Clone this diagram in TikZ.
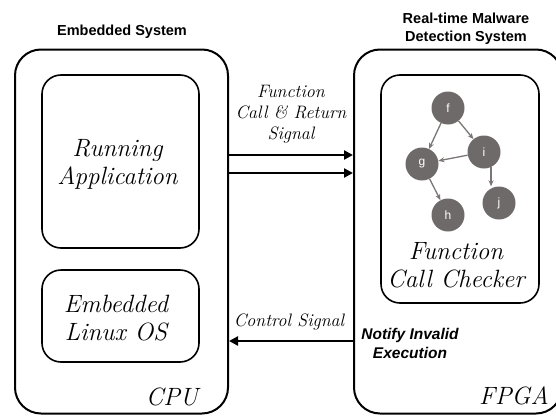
\documentclass[tikz,border=0pt]{standalone}
\usepackage{fontspec}
\setmainfont{Latin Modern Roman}
\setsansfont{Liberation Sans}
\usetikzlibrary{arrows.meta}
\definecolor{gnode}{HTML}{6E6A69}
\definecolor{gedge}{HTML}{7A7675}
\tikzset{
  outerbox/.style={draw, line width=2pt, rounded corners=26pt, inner sep=0pt},
  innerbox/.style={draw, line width=1.6pt, rounded corners=19pt, inner sep=0pt},
  bigtext/.style={font=\fontsize{25}{28}\selectfont\itshape, align=center},
  sigtext/.style={font=\fontsize{18}{21}\selectfont\itshape, align=center},
  title/.style={font=\sffamily\bfseries\fontsize{14.5}{18}\selectfont, align=center},
  notify/.style={font=\sffamily\bfseries\itshape\fontsize{15.5}{19}\selectfont, align=center},
  fn/.style={circle, fill=gnode, minimum size=33pt, inner sep=0pt, text=white, font=\sffamily\fontsize{12}{12}\selectfont},
  fedge/.style={draw=gedge, line width=1.3pt, -{Stealth[length=6pt,width=5pt]}},
  sig/.style={line width=2.6pt, -{Triangle[length=9pt,width=9pt]}}
}
\begin{document}
\begin{tikzpicture}[x=1pt,y=-1pt]
\useasboundingbox (0,0) rectangle (556,415);
\clip (0,0) rectangle (556,415);
% outer boxes
\node[outerbox, minimum width=213pt, minimum height=364pt] (cpu) at (121.5,231.5) {};
\node[outerbox, minimum width=208pt, minimum height=364pt] (fpga) at (458,231.5) {};
% inner boxes
\node[innerbox, minimum width=157pt, minimum height=173pt] (app) at (120.5,161.5) {};
\node[innerbox, minimum width=157pt, minimum height=92pt] (os) at (120.5,316) {};
\node[innerbox, minimum width=158pt, minimum height=228pt] (fcc) at (460,189) {};
% texts
\node[bigtext] (apptxt) at (117.5,164) {Running\\Application};
\node[bigtext] (ostxt) at (116,318) {Embedded\\Linux OS};
\node[bigtext] (cputxt) at (172,397) {CPU};
\node[bigtext] (fpgatxt) at (514,396) {FPGA};
\node[bigtext] (fcctxt) at (456,265) {Function\\Call Checker};
\node[title] (t1) at (122,32) {Embedded System};
\node[title] (t2) at (466,29) {Real-time Malware\\Detection System};
\node[sigtext] (sig1txt) at (291,114) {Function\\Call \& Return\\Signal};
\node[sigtext] (sig2txt) at (289,322) {Control Signal};
\node[notify] (notif) at (410,343.5) {Notify Invalid\\Execution};
% graph
\node[fn] (f) at (448,108) {f};
\node[fn] (i) at (484,152) {i};
\node[fn] (g) at (422,164) {g};
\node[fn] (j) at (499,203) {j};
\node[fn] (h) at (448,215) {h};
\draw[fedge] (f) -- (g);
\draw[fedge] (f) -- (i);
\draw[fedge] (i) -- (g);
\draw[fedge] (i.-65) -- (i.-65 |- j.north);
\draw[fedge] (g) -- (h);
% signals
\coordinate (a1) at (cpu.east |- 0,155);
\coordinate (b1) at (fpga.west |- 0,155);
\coordinate (a2) at (cpu.east |- 0,173);
\coordinate (b2) at (fpga.west |- 0,173);
\coordinate (a3) at (cpu.east |- 0,341);
\coordinate (b3) at (fpga.west |- 0,341);
\draw[sig] (a1) -- (b1);
\draw[sig] (a2) -- (b2);
\draw[sig] (b3) -- (a3);
\end{tikzpicture}
\end{document}
